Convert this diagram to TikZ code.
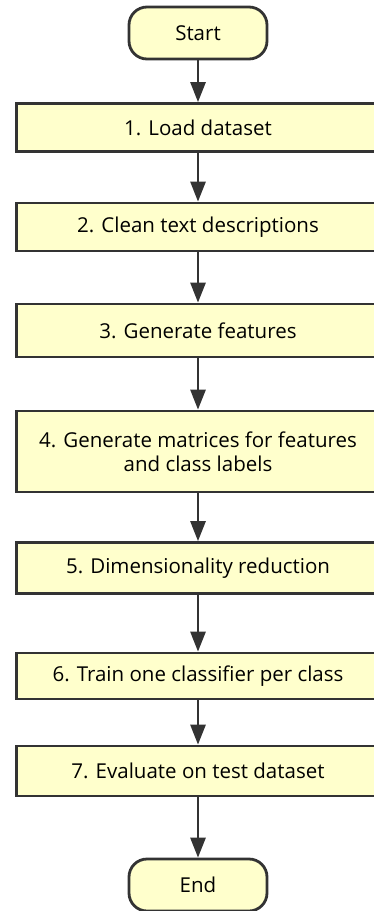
\documentclass[tikz,border=0pt]{standalone}
\usepackage{fontspec}
\setmainfont{Open Sans}
\usetikzlibrary{arrows.meta}
\definecolor{boxfill}{HTML}{FFFFCC}
\definecolor{boxline}{HTML}{333333}
\tikzset{>=latex}

\begin{document}
\begin{tikzpicture}[x=1pt,y=-1pt,
		stepbox/.style = {draw=boxline, line width=2.8pt, fill=boxfill,
			minimum width=363pt, minimum height=48pt, align=center,
			font=\fontsize{20.5}{24}\selectfont, inner sep=0pt},
		terminal/.style = {stepbox, rounded corners=18pt,
			minimum width=138pt, minimum height=52pt},
		flow/.style = {draw=boxline, line width=2.8pt,
			-{Triangle[length=20pt,width=15pt]}},
	]
	\useasboundingbox (0,0) rectangle (374,911);
	\clip (0,0) rectangle (374,911);
	\node[terminal] (start) at (198,33) {Start};
	\node[stepbox] (load) at (198,127.5) {1. Load dataset};
	\node[stepbox] (clean) at (198,227) {2. Clean text descriptions};
	\node[stepbox, minimum height=53pt] (feat) at (198,330.5) {3. Generate features};
	\node[stepbox, minimum height=81pt] (matr) at (198,451.5)
		{4. Generate matrices for features\\and class labels};
	\node[stepbox, minimum height=51pt] (dimred) at (198,568) {5. Dimensionality reduction};
	\node[stepbox, minimum height=46pt] (train) at (198,676) {6. Train one classifier per class};
	\node[stepbox, minimum height=50pt] (eval) at (198,771) {7. Evaluate on test dataset};
	\node[terminal] (end) at (198,885) {End};
	\foreach \a/\b in {start/load, load/clean, clean/feat, feat/matr,
		matr/dimred, dimred/train, train/eval, eval/end}
	{
		\draw[flow] (\a) -- (\b);
	};
\end{tikzpicture}
\end{document}
